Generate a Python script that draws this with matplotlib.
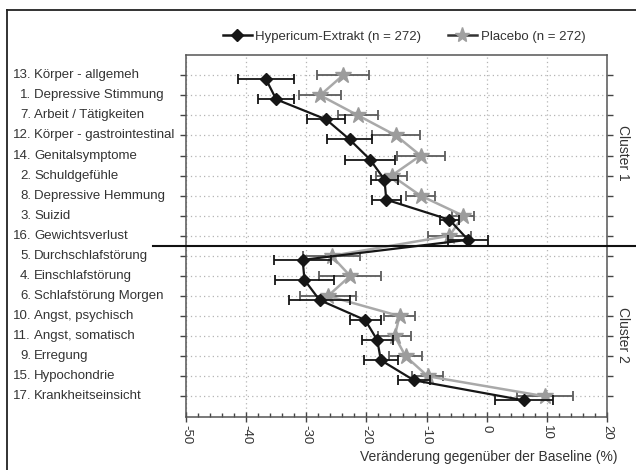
import numpy as np
import matplotlib
matplotlib.use("Agg")
import matplotlib.pyplot as plt
from matplotlib.lines import Line2D
from matplotlib.ticker import MultipleLocator
import matplotlib.transforms as mtransforms

plt.rcParams['font.family'] = ['Liberation Sans', 'DejaVu Sans']

# items, top to bottom
item_nums = ['13.', '1.', '7.', '12.', '14.', '2.', '8.', '3.', '16.',
             '5.', '4.', '6.', '10.', '11.', '9.', '15.', '17.']
item_names = ['Körper - allgemeh', 'Depressive Stimmung', 'Arbeit / Tätigkeiten',
              'Körper - gastrointestinal', 'Genitalsymptome', 'Schuldgefühle',
              'Depressive Hemmung', 'Suizid', 'Gewichtsverlust',
              'Durchschlafstörung', 'Einschlafstörung', 'Schlafstörung Morgen',
              'Angst, psychisch', 'Angst, somatisch', 'Erregung', 'Hypochondrie',
              'Krankheitseinsicht']

# change from baseline (%) and error bar half widths
hyp = [-36.7, -35.0, -26.7, -22.8, -19.4, -17.0, -16.7, -6.2, -3.1,
       -30.6, -30.3, -27.8, -20.2, -18.2, -17.6, -12.1, 6.2]
hyp_err = [4.7, 3.0, 3.2, 3.7, 4.2, 2.2, 2.4, 1.6, 3.3,
           4.7, 4.9, 5.0, 2.6, 2.6, 2.8, 2.6, 4.9]
pla = [-23.9, -27.7, -21.4, -15.1, -11.0, -15.8, -11.0, -3.9, -6.2,
       -25.8, -22.7, -26.4, -14.5, -15.3, -13.5, -9.8, 9.7]
pla_err = [4.4, 3.5, 3.3, 4.0, 4.0, 2.6, 2.4, 1.8, 3.6,
           4.8, 5.2, 4.6, 2.6, 2.7, 2.7, 2.6, 4.6]

cluster_names = ['Cluster 1', 'Cluster 2']
x_ticks = [-50, -40, -30, -20, -10, 0, 10, 20]

W, H = 636, 470
fig = plt.figure(figsize=(W / 100, H / 100), dpi=100)
ax = fig.add_axes([186 / W, 1 - 417 / H, (607 - 186) / W, (417 - 55) / H])

ypos = np.arange(len(item_names))

ax.errorbar(pla, ypos, xerr=pla_err, fmt='-*', color='#a9a9a9', mfc='#9c9c9c',
            mec='#9c9c9c', ms=12, lw=1.8, ecolor='#5c5c5c', elinewidth=1.3,
            capsize=3.5, capthick=1.3, zorder=3)
ax.errorbar(hyp, ypos + 0.2, xerr=hyp_err, fmt='-D', color='#161616', ms=6.5,
            lw=1.6, elinewidth=1.3, capsize=3.5, capthick=1.3, zorder=4)

ax.set_xlim(-50, 20)
ax.set_ylim(16 + 1.03, -1.01)
ax.set_xticks(x_ticks)
ax.set_xticklabels([str(v) for v in x_ticks], rotation=270, fontsize=9.5, color='#333333')
ax.xaxis.set_minor_locator(MultipleLocator(2))
ax.tick_params(axis='x', which='major', direction='inout', length=7, width=1, color='#444444', pad=2)
ax.tick_params(axis='x', which='minor', direction='in', length=3, width=1, color='#444444')
ax.set_yticks(ypos)
ax.set_yticklabels([])
ax.tick_params(axis='y', which='major', direction='out', length=4, width=1, color='#444444',
               right=True)
for sp in ax.spines.values():
    sp.set_color('#555555')
    sp.set_linewidth(1.1)

ax.grid(True, which='major', color='#b5b5b5', linestyle=(0, (1, 2.5)), linewidth=0.9)
ax.set_axisbelow(True)

# item labels at the left
trans = mtransforms.blended_transform_factory(fig.transFigure, ax.transData)
for i in range(len(item_names)):
    ax.text(31 / W, ypos[i], item_nums[i], transform=trans, ha='right', va='center',
            fontsize=9.5, color='#333333', clip_on=False)
    ax.text(34 / W, ypos[i], item_names[i], transform=trans, ha='left', va='center',
            fontsize=9.5, color='#333333', clip_on=False)

# cluster divider
ax.plot([153 / W, 1.0], [8.5, 8.5], transform=trans, color='#111111', lw=1.5,
        clip_on=False, zorder=5)
fig.text(623 / W, 1 - 153 / H, cluster_names[0], rotation=270, ha='center', va='center',
         fontsize=10, color='#333333')
fig.text(623 / W, 1 - 335 / H, cluster_names[1], rotation=270, ha='center', va='center',
         fontsize=10, color='#333333')

fig.text(617 / W, 1 - 457 / H, 'Veränderung gegenüber der Baseline (%)', ha='right',
         va='center', fontsize=10, color='#333333')

handles = [Line2D([], [], color='#161616', marker='D', ms=6, lw=1.8),
           Line2D([], [], color='#333333', marker='*', mfc='#a0a0a0', mec='#a0a0a0', ms=11, lw=1.8)]
fig.legend(handles, ['Hypericum-Extrakt (n = 272)', 'Placebo (n = 272)'],
           loc='center', bbox_to_anchor=(404 / W, 1 - 37 / H), ncol=2, frameon=False,
           fontsize=9.5, handlelength=2.2, handletextpad=0.3, columnspacing=2.0,
           labelcolor='#333333')

# outer frame (left and top edges)
fig.add_artist(Line2D([7 / W, 7 / W], [0, 1 - 10 / H], color='#222222', lw=1.3))
fig.add_artist(Line2D([7 / W, 1], [1 - 10 / H, 1 - 10 / H], color='#222222', lw=1.3))

fig.savefig('out.png', dpi=100)
